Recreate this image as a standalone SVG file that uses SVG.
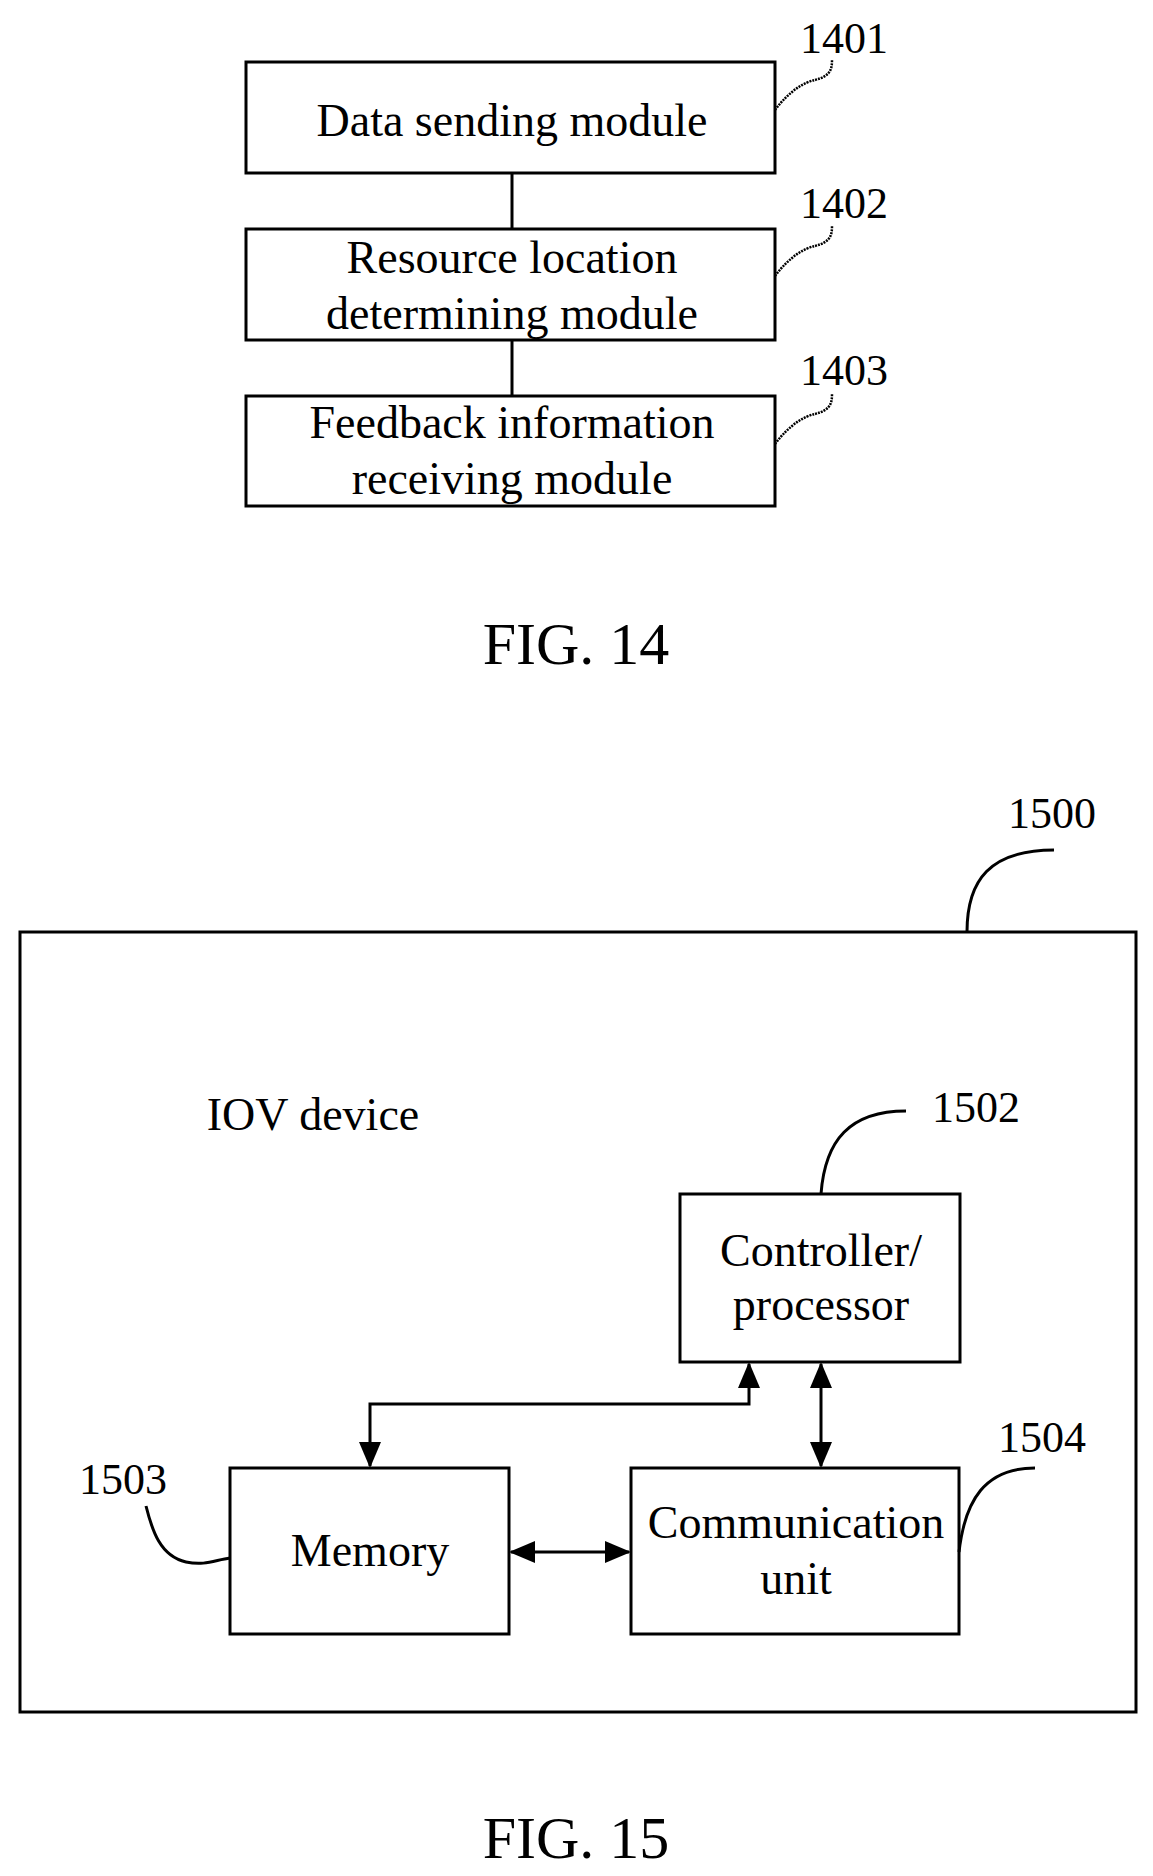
<svg xmlns="http://www.w3.org/2000/svg" width="1153" height="1876" viewBox="0 0 1153 1876">
<style>
text{font-family:"Liberation Serif","Times New Roman",serif;fill:#000}
.t{font-size:46px;text-anchor:middle}
.n{font-size:44px}
.f{font-size:60px;text-anchor:middle}
rect{fill:none;stroke:#000;stroke-width:3}
.c{fill:none;stroke:#000;stroke-width:3}
.s{fill:none;stroke:#000;stroke-width:2.5;stroke-dasharray:2 1}
</style>
<defs>
<marker id="b" markerWidth="26" markerHeight="26" refX="24" refY="13" orient="auto-start-reverse" markerUnits="userSpaceOnUse" viewBox="0 0 26 26"><path d="M0,2 L26,13 L0,24 z"/></marker>
</defs>
<rect width="1153" height="1876" style="fill:#fff;stroke:none"/>
<g id="n1401"><rect x="246" y="62" width="529" height="111"/><text class="t" x="512" y="136">Data sending module</text><text class="n" x="800" y="53">1401</text><path class="s" d="M775,110 C790,90 805,82 815,80 C830,76 832,70 832,60"/></g>
<g id="n1402"><rect x="246" y="229" width="529" height="111"/><text class="t" x="512" y="273">Resource location</text><text class="t" x="512" y="329">determining module</text><text class="n" x="800" y="218">1402</text><path class="s" d="M775,276 C790,256 805,248 815,246 C830,242 832,236 832,226"/></g>
<g id="n1403"><rect x="246" y="396" width="529" height="110"/><text class="t" x="512" y="438">Feedback information</text><text class="t" x="512" y="494">receiving module</text><text class="n" x="800" y="385">1403</text><path class="s" d="M775,444 C790,424 805,416 815,414 C830,410 832,404 832,394"/></g>
<text class="f" x="576" y="664">FIG. 14</text>
<g id="n1500"><rect x="20" y="932" width="1116" height="780"/><text class="n" x="1008" y="828">1500</text><path class="c" d="M967,932 C967,880 990,850 1054,850"/><text class="t" x="313" y="1130">IOV device</text></g>
<g id="n1502"><rect x="680" y="1194" width="280" height="168"/><text class="t" x="821" y="1266">Controller/</text><text class="t" x="821" y="1320">processor</text><text class="n" x="932" y="1122">1502</text><path class="c" d="M821,1194 C825,1140 850,1111 906,1111"/></g>
<g id="n1503"><rect x="230" y="1468" width="279" height="166"/><text class="t" x="370" y="1566">Memory</text><text class="n" x="79" y="1494">1503</text><path class="c" d="M230,1558 C215,1560 205,1566 186,1562 C160,1556 152,1530 146,1506"/></g>
<g id="n1504"><rect x="631" y="1468" width="328" height="166"/><text class="t" x="796" y="1538">Communication</text><text class="t" x="796" y="1594">unit</text><text class="n" x="998" y="1452">1504</text><path class="c" d="M959,1552 C965,1500 985,1468 1035,1468"/></g>
<g id="connectors">
<line class="c" x1="512" y1="173" x2="512" y2="229"/>
<line class="c" x1="512" y1="340" x2="512" y2="396"/>
<line class="c" x1="511" y1="1552" x2="629" y2="1552" marker-start="url(#b)" marker-end="url(#b)"/>
<line class="c" x1="821" y1="1364" x2="821" y2="1466" marker-start="url(#b)" marker-end="url(#b)"/>
<path class="c" d="M370,1466 L370,1404 L749,1404 L749,1364" marker-start="url(#b)" marker-end="url(#b)"/>
</g>
<text class="f" x="576" y="1858">FIG. 15</text>
</svg>
